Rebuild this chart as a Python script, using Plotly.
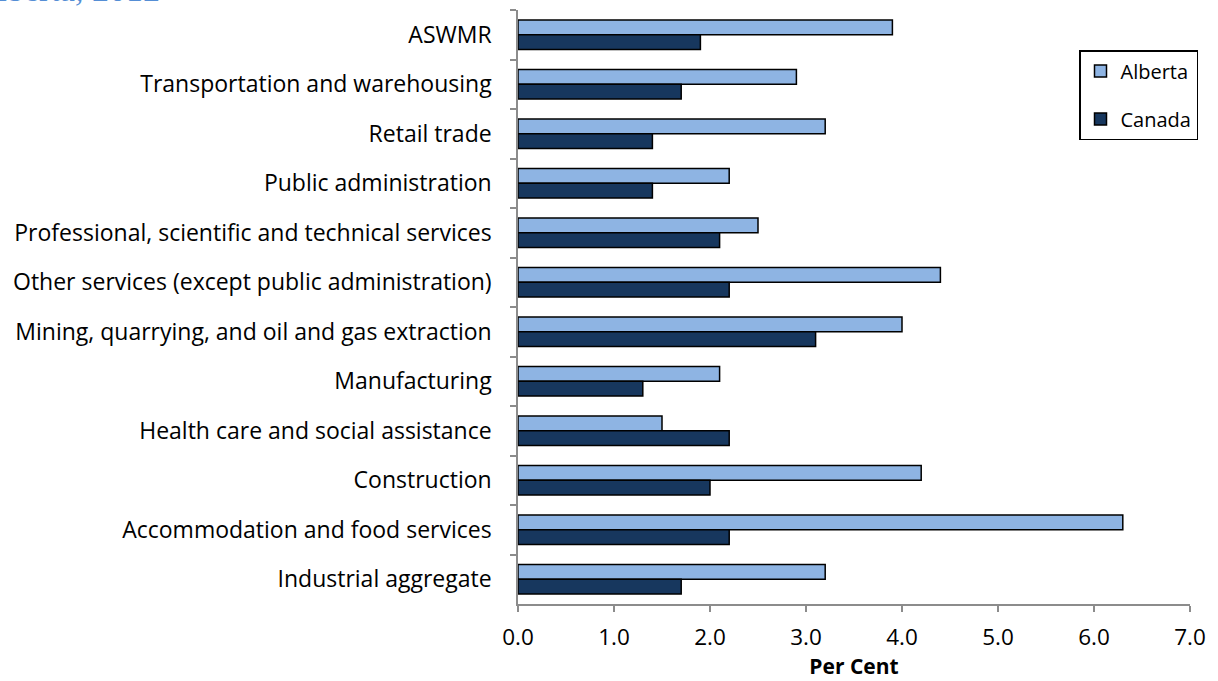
import plotly.graph_objects as go

categories = [
    "ASWMR",
    "Transportation and warehousing",
    "Retail trade",
    "Public administration",
    "Professional, scientific and technical services",
    "Other services (except public administration)",
    "Mining, quarrying, and oil and gas extraction",
    "Manufacturing",
    "Health care and social assistance",
    "Construction",
    "Accommodation and food services",
    "Industrial aggregate",
]
alberta = [3.9, 2.9, 3.2, 2.2, 2.5, 4.4, 4.0, 2.1, 1.5, 4.2, 6.3, 3.2]
canada = [1.9, 1.7, 1.4, 1.4, 2.1, 2.2, 3.1, 1.3, 2.2, 2.0, 2.2, 1.7]
x_ticks = [0, 1, 2, 3, 4, 5, 6, 7]
x_tick_labels = ["0.0", "1.0", "2.0", "3.0", "4.0", "5.0", "6.0", "7.0"]

FONT = "Open Sans"
SIZE = 23

# plot area in pixels
L, R, T, B = 518, 28, 10, 77
W, H = 1218, 681
plot_w = W - L - R
plot_h = H - T - B


def px_x(px):
    return (px - L) / plot_w


def px_y(py):
    return 1 - (py - T) / plot_h


fig = go.Figure()
fig.add_trace(go.Bar(
    name="Alberta", y=categories, x=alberta, orientation="h", legendgroup="ab",
    marker=dict(color="#8EB4E3", line=dict(color="#000000", width=1.5)),
))
fig.add_trace(go.Bar(
    name="Canada", y=categories, x=canada, orientation="h", legendgroup="ca",
    marker=dict(color="#17375E", line=dict(color="#000000", width=1.5)),
))

fig.update_layout(
    width=W, height=H,
    margin=dict(l=L, r=R, t=T, b=B, autoexpand=False),
    paper_bgcolor="white", plot_bgcolor="white",
    barmode="group", bargap=0.4, bargroupgap=0.0,
    font=dict(family=FONT, size=SIZE, color="#000000"),
    showlegend=True,
    legend=dict(
        x=px_x(1198), y=px_y(50), xanchor="right", yanchor="top",
        bordercolor="#000000", borderwidth=1.5, bgcolor="white",
        font=dict(family=FONT, size=20),
        tracegroupgap=19, itemwidth=30,
    ),
    xaxis=dict(
        range=[0, 7], tickvals=x_ticks, ticktext=x_tick_labels,
        showgrid=False, zeroline=False,
        showline=True, linecolor="#8C8C8C", linewidth=1.5,
        ticks="outside", ticklen=6, tickcolor="#8C8C8C", tickwidth=1.5,
        ticklabelstandoff=6,
        tickfont=dict(family=FONT, size=SIZE - 0.5),
        title=dict(text="<b>Per Cent</b>", font=dict(family=FONT, size=21), standoff=7),
    ),
    yaxis=dict(
        type="category", categoryorder="array", categoryarray=categories,
        autorange="reversed",
        showgrid=False, zeroline=False,
        showline=True, linecolor="#8C8C8C", linewidth=1.5,
        ticks="outside", ticklen=6, tickcolor="#8C8C8C", tickwidth=1.5,
        tickson="boundaries", ticklabelstandoff=20,
        tickfont=dict(family=FONT, size=SIZE),
    ),
)

# Chart heading, partly above the top edge of the page
fig.add_annotation(
    text="Alberta, 2012", xref="paper", yref="paper",
    x=px_x(162), y=px_y(-10),
    xanchor="right", yanchor="middle", showarrow=False,
    font=dict(family="Liberation Serif", size=34, color="#558ED5"),
)

fig.write_html("out.html")
